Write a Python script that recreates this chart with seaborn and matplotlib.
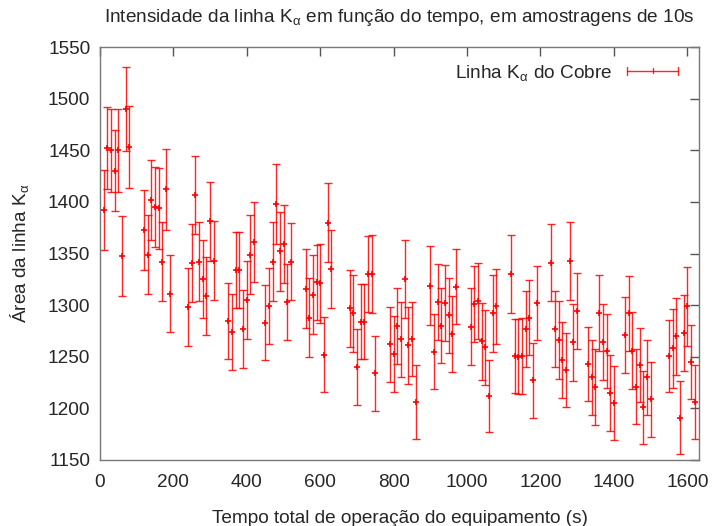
import numpy as np
import pandas as pd
import matplotlib
matplotlib.use("Agg")
import matplotlib.pyplot as plt
import seaborn as sns
from matplotlib.lines import Line2D
from matplotlib.legend_handler import HandlerBase

# ---------------- data ----------------
tempo = [10, 20, 30, 40, 50, 60, 70, 80,
         120, 130, 140, 150, 160, 170, 180, 190,
         240, 250, 260, 270, 280, 290, 300, 310,
         350, 360, 370, 380, 390, 400, 410, 420,
         450, 460, 470, 480, 490, 500, 510, 520,
         560, 570, 580, 590, 600, 610, 620, 630,
         680, 690, 700, 710, 720, 730, 740, 750,
         790, 800, 810, 820, 830, 840, 850, 860,
         900, 910, 920, 930, 940, 950, 960, 970,
         1010, 1020, 1030, 1040, 1050, 1060, 1070, 1080,
         1120, 1130, 1140, 1150, 1160, 1170, 1180, 1190,
         1230, 1240, 1250, 1260, 1270, 1280, 1290, 1300,
         1330, 1340, 1350, 1360, 1370, 1380, 1390, 1400,
         1430, 1440, 1450, 1460, 1470, 1480, 1490, 1500,
         1550, 1560, 1570, 1580, 1590, 1600, 1610, 1620]

area = [1392, 1452, 1450, 1430, 1450, 1348, 1490, 1453,
        1373, 1349, 1402, 1395, 1394, 1342, 1412, 1311,
        1298, 1341, 1407, 1342, 1325, 1309, 1381, 1343,
        1285, 1274, 1334, 1334, 1277, 1305, 1349, 1361,
        1283, 1299, 1342, 1398, 1352, 1359, 1303, 1342,
        1316, 1288, 1310, 1322, 1321, 1252, 1380, 1335,
        1297, 1292, 1240, 1284, 1284, 1330, 1330, 1234,
        1262, 1253, 1280, 1267, 1325, 1261, 1267, 1206,
        1319, 1255, 1303, 1280, 1302, 1290, 1272, 1318,
        1279, 1301, 1304, 1265, 1259, 1212, 1292, 1299,
        1330, 1251, 1250, 1251, 1277, 1288, 1227, 1302,
        1341, 1277, 1266, 1247, 1237, 1343, 1264, 1294,
        1243, 1230, 1221, 1292, 1264, 1256, 1215, 1205,
        1271, 1292, 1256, 1221, 1242, 1201, 1230, 1209,
        1251, 1258, 1270, 1191, 1273, 1299, 1245, 1206]

erro = [38.7, 39.5, 40.0, 39.2, 40.0, 38.7, 40.3, 40.0,
        38.9, 38.5, 39.0, 38.4, 39.2, 38.2, 39.5, 37.4,
        37.9, 37.9, 37.7, 38.4, 37.9, 37.9, 38.5, 38.2,
        36.8, 36.8, 37.1, 36.8, 37.7, 37.6, 37.9, 38.4,
        36.6, 37.1, 38.4, 38.4, 38.4, 37.7, 36.6, 37.4,
        37.9, 38.2, 38.2, 36.6, 37.9, 36.6, 38.4, 38.2,
        37.4, 37.1, 37.1, 36.0, 36.0, 37.1, 37.7, 36.5,
        36.5, 36.8, 36.6, 36.5, 37.9, 37.6, 36.0, 36.0,
        37.9, 36.5, 37.1, 36.3, 36.8, 36.3, 37.1, 36.3,
        37.4, 37.1, 37.1, 37.1, 36.0, 35.2, 37.1, 36.3,
        37.6, 36.0, 36.3, 36.6, 36.6, 36.6, 36.3, 36.1,
        37.1, 37.1, 37.6, 36.5, 36.0, 37.9, 37.1, 36.9,
        35.5, 36.3, 36.8, 36.8, 36.9, 35.8, 36.5, 36.1,
        36.8, 36.3, 37.1, 36.3, 35.8, 35.5, 36.3, 36.3,
        35.0, 37.9, 37.3, 35.2, 37.1, 38.4, 35.8, 35.8]

xticks = [0, 200, 400, 600, 800, 1000, 1200, 1400, 1600]
yticks = [1150, 1200, 1250, 1300, 1350, 1400, 1450, 1500, 1550]

titulo = r"Intensidade da linha K$_\mathregular{α}$ em função do tempo, em amostragens de 10s"
rotulo_x = "Tempo total de operação do equipamento (s)"
rotulo_y = r"Área da linha K$_\mathregular{α}$"
rotulo_serie = r"Linha K$_\mathregular{α}$ do Cobre"

df = pd.DataFrame({"tempo": tempo, "area": area, "erro": erro})

# ---------------- style ----------------
sns.set_style("white")
plt.rcParams["font.family"] = ["Liberation Sans", "DejaVu Sans"]
plt.rcParams["mathtext.fontset"] = "custom"
plt.rcParams["mathtext.rm"] = "Liberation Sans"
plt.rcParams["mathtext.it"] = "Liberation Sans"

RED = "#ff0000"
AXC = "#555555"
FS = 13.7

fig = plt.figure(figsize=(7.14, 5.26), dpi=100)
ax = fig.add_axes([100 / 714, 1 - 460 / 526, (699 - 100) / 714, (460 - 47) / 526])

ax.errorbar(df["tempo"], df["area"], yerr=df["erro"], fmt="none",
            ecolor=RED, elinewidth=1.0, capsize=3.2, capthick=1.0, alpha=0.85, zorder=2)
sns.scatterplot(data=df, x="tempo", y="area", marker="+", color=RED, s=18,
                linewidth=1.2, ax=ax, zorder=3, legend=False)

ax.set_xlim(0, 1632)
ax.set_ylim(1150, 1550)
ax.set_xticks(xticks)
ax.set_yticks(yticks)
ax.tick_params(direction="in", length=6.5, width=1, color=AXC, labelsize=FS,
               top=True, right=True, labeltop=False, labelright=False)
ax.tick_params(axis="x", pad=10)
ax.tick_params(axis="y", pad=7)
for s in ax.spines.values():
    s.set_color("#777777")
    s.set_linewidth(1.0)

ax.set_xlabel(rotulo_x, fontsize=FS, labelpad=14)
ax.set_ylabel(rotulo_y, fontsize=FS, labelpad=12)
ax.set_title(titulo, fontsize=FS, pad=18)


class HandlerErrBar(HandlerBase):
    def create_artists(self, legend, orig_handle, xdescent, ydescent,
                       width, height, fontsize, trans):
        y = height / 2 - ydescent
        x0, x1 = -xdescent, width - xdescent
        xm = (x0 + x1) / 2
        c = 3.0
        arts = [Line2D([x0, x1], [y, y], color=RED, lw=1.0, alpha=0.85),
                Line2D([x0, x0], [y - c, y + c], color=RED, lw=1.0, alpha=0.85),
                Line2D([x1, x1], [y - c, y + c], color=RED, lw=1.0, alpha=0.85),
                Line2D([xm, xm], [y - 1.8, y + 1.8], color=RED, lw=1.0, alpha=0.85)]
        for a in arts:
            a.set_transform(trans)
        return arts


proxy = Line2D([], [], color=RED)
ax.legend([proxy], [rotulo_serie], handler_map={Line2D: HandlerErrBar()},
          loc="upper right", bbox_to_anchor=(1 - 13 / 599, 1 - 8 / 413),
          frameon=False, fontsize=FS, markerfirst=False,
          handlelength=2.7, handletextpad=0.75, borderaxespad=0.0)

fig.savefig("out.png", dpi=100)
